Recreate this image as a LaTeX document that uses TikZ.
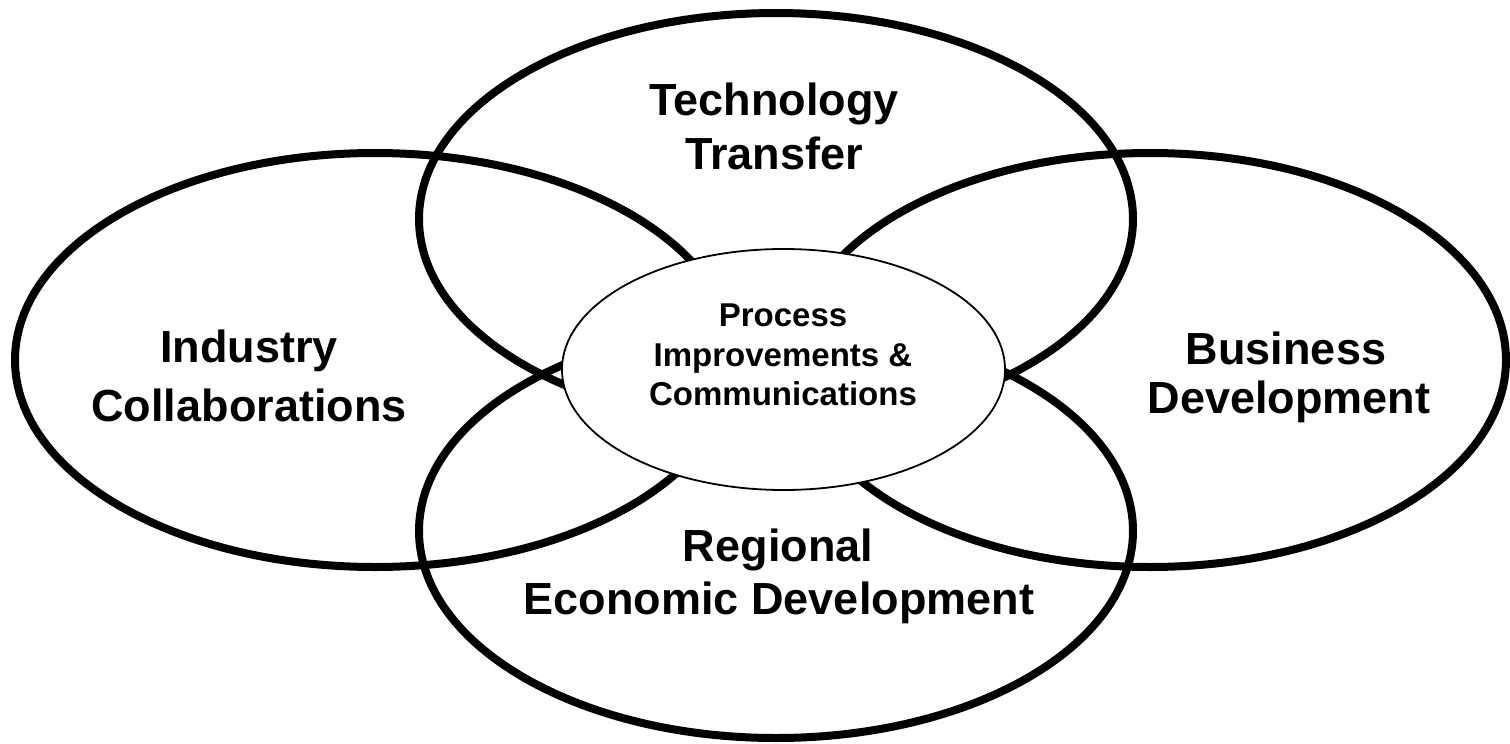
\documentclass[tikz,border=0pt]{standalone}
\usepackage{fontspec}
\setmainfont{Liberation Sans}
\begin{document}
\begin{tikzpicture}[x=1pt,y=-1pt,
  outerring/.style={draw=black, line width=8pt},
  innerring/.style={draw=black, line width=1.8pt, fill=white},
  biglabel/.style={font=\fontsize{45}{54}\selectfont\bfseries, anchor=base, inner sep=0pt},
  smalllabel/.style={font=\fontsize{33}{40}\selectfont\bfseries, anchor=base, inner sep=0pt}]
\useasboundingbox (0,0) rectangle (1510,744);
\fill[white] (0,0) rectangle (1510,744);
% outer ellipses
\coordinate (ctop) at (776,219);
\coordinate (cbot) at (776,531);
\coordinate (cleft) at (375,360);
\coordinate (cright) at (1150,360);
\coordinate (ccen) at (783.5,369.5);
\draw[outerring] (ctop) ellipse [x radius=357pt, y radius=206pt];
\draw[outerring] (cbot) ellipse [x radius=357pt, y radius=207pt];
\draw[outerring] (cleft) ellipse [x radius=360pt, y radius=207pt];
\draw[outerring] (cright) ellipse [x radius=356pt, y radius=207pt];
% center ellipse
\draw[innerring] (ccen) ellipse [x radius=221.5pt, y radius=120.5pt];
% labels
\node[biglabel] (tt1) at (774,115) {Technology};
\node[biglabel] (tt2) at (774,169) {Transfer};
\node[biglabel] (ic1) at (249,362) {Industry};
\node[biglabel] (ic2) at (249,421) {Collaborations};
\node[biglabel] (bd1) at (1286,364) {Business};
\node[biglabel] (bd2) at (1289,413) {Development};
\node[biglabel] (re1) at (778,561) {Regional};
\node[biglabel] (re2) at (779,614) {Economic Development};
\node[smalllabel] (pc1) at (783,326) {Process};
\node[smalllabel] (pc2) at (783,366) {Improvements \&};
\node[smalllabel] (pc3) at (783,405) {Communications};
\end{tikzpicture}
\end{document}
